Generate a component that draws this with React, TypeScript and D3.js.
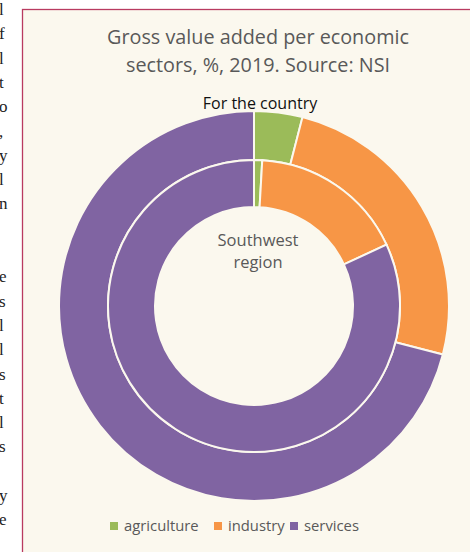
import { useEffect, useRef } from 'react';
import * as d3 from 'd3';

const sectors = ['agriculture', 'industry', 'services'];
const countryShares = [4.0, 25.0, 71.0];
const southwestShares = [0.9, 17.2, 81.9];
const sectorColors = ['#9bbb59', '#f79646', '#8064a2'];
const titleLines = ['Gross value added per economic', 'sectors, %, 2019. Source: NSI'];
const innerLabelLines = ['Southwest', 'region'];
// cut-off letters of the document text on the left side of the page
const marginLetters = ['l', 'f', 'l', 't', 'o', ',', 'y', 'l', 'n', '', '', 'e', 's', 'l', 'l', 's', 't', 'l', 's', '', 'y', 'e'];

export default function App() {
  const svgRef = useRef<SVGSVGElement>(null);

  useEffect(() => {
    if (!svgRef.current) return;
    const width = 470;
    const height = 552;
    const cx = 254;
    const cy = 306;
    const font = '"Open Sans", sans-serif';

    const svg = d3.select(svgRef.current)
      .attr('width', width)
      .attr('height', height)
      .attr('viewBox', `0 0 ${width} ${height}`);
    svg.selectAll('*').remove();

    svg.append('rect').attr('width', width).attr('height', height).attr('fill', '#ffffff');

    // page text fragments
    svg.selectAll('.frag')
      .data(marginLetters)
      .join('text')
      .attr('class', 'frag')
      .attr('x', -1)
      .attr('y', (_, i) => 15 + i * 24.3)
      .attr('fill', '#222')
      .style('font-family', '"Liberation Serif", serif')
      .style('font-size', '17px')
      .text(d => d);

    // chart frame
    svg.append('rect')
      .attr('x', 22.5)
      .attr('y', 9.5)
      .attr('width', 460)
      .attr('height', 560)
      .attr('fill', '#fbf8ee')
      .attr('stroke', '#b93a60')
      .attr('stroke-width', 1.3);

    // title
    svg.append('g')
      .selectAll('text')
      .data(titleLines)
      .join('text')
      .attr('x', 258)
      .attr('y', (_, i) => 44 + i * 28)
      .attr('text-anchor', 'middle')
      .attr('fill', '#595959')
      .style('font-family', font)
      .style('font-size', '19.8px')
      .text(d => d);

    const pie = d3.pie<number>().sort(null).value(d => d);

    const outerArc = d3.arc<d3.PieArcDatum<number>>().innerRadius(146).outerRadius(195);
    const innerArc = d3.arc<d3.PieArcDatum<number>>().innerRadius(99).outerRadius(146);

    const g = svg.append('g').attr('transform', `translate(${cx},${cy})`);

    g.append('g')
      .selectAll('path')
      .data(pie(countryShares))
      .join('path')
      .attr('d', outerArc)
      .attr('fill', (_, i) => sectorColors[i])
      .attr('stroke', '#fbf8ee')
      .attr('stroke-width', 2);

    g.append('g')
      .selectAll('path')
      .data(pie(southwestShares))
      .join('path')
      .attr('d', innerArc)
      .attr('fill', (_, i) => sectorColors[i])
      .attr('stroke', '#fbf8ee')
      .attr('stroke-width', 2);

    svg.append('text')
      .attr('x', 260)
      .attr('y', 109)
      .attr('text-anchor', 'middle')
      .attr('fill', '#111')
      .style('font-family', font)
      .style('font-size', '16px')
      .style('font-weight', '500')
      .text('For the country');

    svg.append('g')
      .selectAll('text')
      .data(innerLabelLines)
      .join('text')
      .attr('x', 258)
      .attr('y', (_, i) => 246 + i * 22)
      .attr('text-anchor', 'middle')
      .attr('fill', '#595959')
      .style('font-family', font)
      .style('font-size', '16.5px')
      .text(d => d);

    // legend
    const legend = svg.append('g').attr('transform', 'translate(110,531)');
    const offsets = [0, 104, 180];
    const items = legend.selectAll('g')
      .data(sectors)
      .join('g')
      .attr('transform', (_, i) => `translate(${offsets[i]},0)`);
    items.append('rect')
      .attr('x', 0)
      .attr('y', -9)
      .attr('width', 8)
      .attr('height', 8)
      .attr('fill', (_, i) => sectorColors[i]);
    items.append('text')
      .attr('x', 14)
      .attr('y', 0)
      .attr('fill', '#595959')
      .style('font-family', font)
      .style('font-size', '14.8px')
      .text(d => d);
  }, []);

  return <svg ref={svgRef} style={{ position: 'absolute', left: 0, top: 0, display: 'block' }} />;
}
